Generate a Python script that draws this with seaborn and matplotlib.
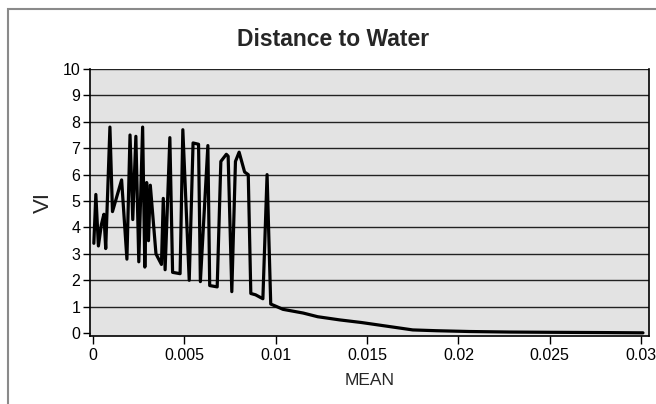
import pandas as pd
import matplotlib.pyplot as plt
import seaborn as sns
from matplotlib.patches import Rectangle

# values
mean = [0.00005, 0.00016, 0.0003, 0.00046, 0.0006, 0.0007, 0.00093, 0.00107,
        0.00157, 0.00186, 0.00203, 0.00218, 0.00235, 0.00251, 0.00272, 0.00284,
        0.00294, 0.00304, 0.00314, 0.00345, 0.00375, 0.00385, 0.00395, 0.00421,
        0.00436, 0.00477, 0.00492, 0.00527, 0.00548, 0.00578, 0.00588, 0.00629,
        0.00639, 0.0068, 0.007, 0.0073, 0.0074, 0.0076, 0.0078, 0.008,
        0.0083, 0.0085, 0.00864, 0.0089, 0.0093, 0.00953, 0.00973, 0.01,
        0.0104, 0.0115, 0.0123, 0.0135, 0.0147, 0.0157, 0.0167, 0.0175,
        0.0188, 0.0206, 0.0228, 0.0251, 0.0279, 0.0301]
vi = [3.4, 5.25, 3.3, 4.1, 4.5, 3.2, 7.8, 4.6,
      5.8, 2.8, 7.5, 4.3, 7.45, 2.7, 7.8, 2.5,
      5.7, 3.5, 5.6, 3.0, 2.6, 5.1, 2.4, 7.4,
      2.3, 2.25, 7.7, 2.0, 7.2, 7.15, 1.95, 7.1,
      1.8, 1.75, 6.5, 6.77, 6.7, 1.57, 6.5, 6.85,
      6.1, 6.0, 1.5, 1.45, 1.3, 6.0, 1.1, 1.02,
      0.9, 0.76, 0.62, 0.5, 0.4, 0.3, 0.2, 0.12,
      0.09, 0.06, 0.04, 0.03, 0.02, 0.01]
x_ticks = [0, 0.005, 0.01, 0.015, 0.02, 0.025, 0.03]
x_labels = ['0', '0.005', '0.01', '0.015', '0.02', '0.025', '0.03']
y_ticks = list(range(0, 11))

df = pd.DataFrame({'MEAN': mean, 'VI': vi})

sns.set_style('white')
plt.rcParams['font.family'] = ['Liberation Sans', 'DejaVu Sans']

fig = plt.figure(figsize=(6.56, 4.04), dpi=100)
ax = fig.add_axes([90 / 656, 1 - 336 / 404, 559 / 656, 267 / 404])
ax.set_facecolor('#e3e3e3')

sns.lineplot(data=df, x='MEAN', y='VI', color='black', linewidth=2.3,
             estimator=None, sort=False, ax=ax)

ax.set_xlim(-0.00016, 0.03043)
ax.set_ylim(-0.11, 10)
ax.set_xticks(x_ticks)
ax.set_xticklabels(x_labels)
ax.set_yticks(y_ticks)
for y in y_ticks[1:]:
    ax.axhline(y, color='#222222', linewidth=1.0, zorder=1)
ax.tick_params(axis='both', direction='out', length=5, width=1,
               colors='black', labelsize=11.5, pad=2, bottom=True, left=True)
ax.tick_params(axis='x', length=6, pad=3)
for side in ['left', 'bottom', 'right']:
    ax.spines[side].set_color('black')
    ax.spines[side].set_linewidth(1.2)
ax.spines['top'].set_visible(False)

ax.set_xlabel('MEAN', fontsize=12.5, labelpad=7)
ax.set_ylabel('VI', fontsize=16, labelpad=6)
fig.text(333 / 656, 1 - 40 / 404, 'Distance to Water', ha='center', va='center',
         fontsize=16.5, fontweight='bold')

# outer chart frame
fig.patches.append(Rectangle((8 / 656, -0.1), 1.2, 1 - 9 / 404 + 0.1,
                             transform=fig.transFigure, fill=False,
                             edgecolor='#8a8a8a', linewidth=1.5))

fig.savefig('out.png', dpi=100)
